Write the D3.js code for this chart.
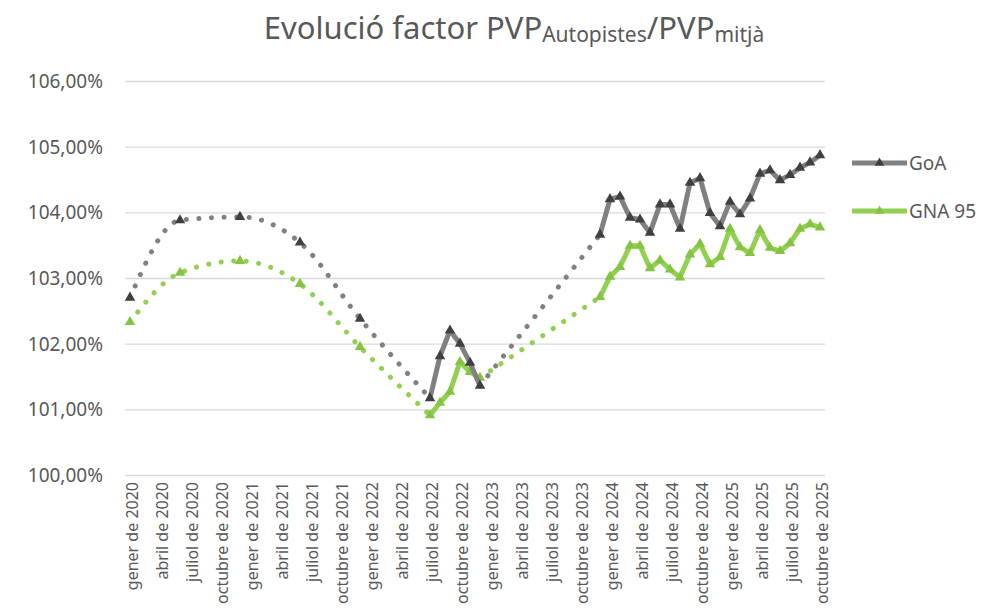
<!DOCTYPE html>
<html>
<head>
<meta charset="utf-8">
<script src="https://cdn.jsdelivr.net/npm/d3@7"></script>
<style>
  body { margin: 0; background: #fff; }
  svg text { font-family: "Noto Sans", "Open Sans", sans-serif; fill: #595959; }
</style>
</head>
<body>
<div id="chart"></div>
<script>
var width = 987, height = 610;
var gridcolor = '#d9d9d9';
var goaline = '#808080', goamark = '#404040';
var gnaline = '#92d050', gnamark = '#85c443';

var monthnames = ['gener','febrer','març','abril','maig','juny','juliol','agost','setembre','octubre','novembre','desembre'];
var years = [2020, 2021, 2022, 2023, 2024, 2025];
var yticks = [100, 101, 102, 103, 104, 105, 106];
var serienames = ['GoA', 'GNA 95'];

// monthly values, gener 2020 .. octubre 2025 (null = no data)
var goa = [
  102.70, null, null, null, null, 103.88, null, null, null, null, null, 103.93,
  null, null, null, null, null, 103.54, null, null, null, null, null, 102.38,
  null, null, null, null, null, null, 101.17, 101.81, 102.20, 102.00, 101.71, 101.36,
  null, null, null, null, null, null, null, null, null, null, null, 103.66,
  104.20, 104.24, 103.92, 103.89, 103.69, 104.12, 104.12, 103.75, 104.45, 104.52, 103.99, 103.79,
  104.16, 103.97, 104.21, 104.59, 104.64, 104.49, 104.57, 104.68, 104.76, 104.87
];
var gna95 = [
  102.33, null, null, null, null, 103.08, null, null, null, null, null, 103.26,
  null, null, null, null, null, 102.91, null, null, null, null, null, 101.95,
  null, null, null, null, null, null, 100.91, 101.10, 101.27, 101.72, 101.57, 101.48,
  null, null, null, null, null, null, null, null, null, null, null, 102.71,
  103.02, 103.17, 103.49, 103.49, 103.15, 103.27, 103.13, 103.01, 103.36, 103.52, 103.21, 103.32,
  103.75, 103.47, 103.38, 103.73, 103.46, 103.41, 103.53, 103.75, 103.82, 103.77
];

// month categories
var months = [];
years.forEach(function(yr){
  monthnames.forEach(function(m){ months.push(m + ' de ' + yr); });
});
months = months.slice(0, goa.length);
var ticklabels = months.filter(function(d, i){ return i % 3 == 0; });

var svg = d3.select('#chart').append('svg').attr('width', width).attr('height', height);

var xscale = d3.scalePoint().domain(months).range([125, 825]).padding(0.5);
var yscale = d3.scaleLinear().domain([100, 106]).range([475, 81]);

// title
var title = svg.append('text').attr('x', 514).attr('y', 39).attr('text-anchor', 'middle')
  .style('font-size', '31px');
title.append('tspan').text('Evolució factor PVP');
title.append('tspan').text('Autopistes').style('font-size', '21px').attr('dy', 3);
title.append('tspan').text('/PVP').attr('dy', -3);
title.append('tspan').text('mitjà').style('font-size', '21px').attr('dy', 3);

// gridlines + y labels
var yaxis = svg.append('g').attr('class', 'yaxis')
  .call(d3.axisLeft(yscale).tickValues(yticks).tickSize(-700)
    .tickFormat(function(d){ return d3.format('.2f')(d).replace('.', ',') + '%'; }))
  .attr('transform', 'translate(125,0)');
yaxis.select('.domain').remove();
yaxis.selectAll('line').attr('stroke', gridcolor).attr('stroke-width', 1.3);
yaxis.selectAll('text').attr('x', -22).attr('dy', '0.35em')
  .style('font-size', '19px').attr('fill', '#595959');

// x labels
var xaxis = svg.append('g').attr('class', 'xaxis')
  .attr('transform', 'translate(0,475)')
  .call(d3.axisBottom(xscale).tickValues(ticklabels).tickSize(0));
xaxis.select('.domain').remove();
xaxis.selectAll('text')
  .attr('transform', 'rotate(-90)')
  .attr('x', -7).attr('y', 2).attr('dy', '0.35em')
  .attr('text-anchor', 'end')
  .style('font-size', '16px').attr('fill', '#595959');

function drawseries(vals, linecolor, markcolor){
  var pts = [];
  vals.forEach(function(v, i){ if (v != null) pts.push({i: i, v: v}); });

  // split into solid runs and dotted chains across gaps
  var solids = [], dotted = [], run = [pts[0]], chain = [];
  for (var k = 1; k < pts.length; k++) {
    var a = pts[k - 1], b = pts[k];
    if (b.i - a.i == 1) {
      run.push(b);
      if (chain.length) { dotted.push(chain); chain = []; }
    } else {
      if (run.length > 1) solids.push(run);
      run = [b];
      if (!chain.length) chain.push(a);
      chain.push(b);
    }
  }
  if (run.length > 1) solids.push(run);
  if (chain.length) dotted.push(chain);

  var line = d3.line()
    .x(function(d){ return xscale(months[d.i]); })
    .y(function(d){ return yscale(d.v); });

  var g = svg.append('g');
  dotted.forEach(function(c){
    g.append('path').datum(c)
      .attr('d', line.curve(d3.curveMonotoneX))
      .attr('fill', 'none').attr('stroke', linecolor)
      .attr('stroke-width', 5).attr('stroke-linecap', 'round')
      .attr('stroke-dasharray', '0.1,12.5');
  });
  solids.forEach(function(r){
    g.append('path').datum(r)
      .attr('d', line.curve(d3.curveLinear))
      .attr('fill', 'none').attr('stroke', linecolor)
      .attr('stroke-width', 5).attr('stroke-linejoin', 'round');
  });
  g.selectAll('.mark').data(pts).enter().append('path')
    .attr('class', 'mark')
    .attr('d', d3.symbol().type(d3.symbolTriangle).size(48))
    .attr('transform', function(d){ return 'translate(' + xscale(months[d.i]) + ',' + yscale(d.v) + ')'; })
    .attr('fill', markcolor);
}

drawseries(gna95, gnaline, gnamark);
drawseries(goa, goaline, goamark);

// legend
var legend = svg.append('g').attr('class', 'legend');
[[goaline, goamark], [gnaline, gnamark]].forEach(function(c, i){
  var ly = 163 + i * 48;
  legend.append('line').attr('x1', 852).attr('x2', 907).attr('y1', ly).attr('y2', ly)
    .attr('stroke', c[0]).attr('stroke-width', 5);
  legend.append('path').attr('d', d3.symbol().type(d3.symbolTriangle).size(40))
    .attr('transform', 'translate(879.5,' + ly + ')').attr('fill', c[1]);
  legend.append('text').text(serienames[i]).attr('x', 909).attr('y', ly).attr('dy', '0.35em')
    .style('font-size', '19px');
});
</script>
</body>
</html>
